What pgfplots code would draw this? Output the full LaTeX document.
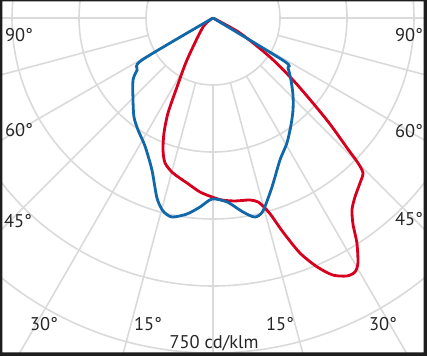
\documentclass[border=0pt]{standalone}
\usepackage{pgfplots}
\usepackage{pgfplotstable}
\pgfplotsset{compat=1.18}
\usepackage{fontspec}
\setmainfont{PT Sans}
\definecolor{cblue}{RGB}{16,104,170}
\definecolor{cred}{RGB}{214,0,30}
\definecolor{cgrid}{RGB}{218,218,218}
\definecolor{cframe}{RGB}{30,30,30}

% luminous intensity in cd/klm, angle in degrees (0 = nadir, negative = left)
\pgfplotstableread{
a I
-60 0
-59.4 184.7
-55.6 206
-52.2 226.6
-44.3 256.5
-38.6 283.6
-33.8 301.8
-28.0 324.5
-21.9 366.7
-17.3 422
-14.5 446.4
-11.65 454.9
-7.55 442.6
-3.9 424
-0.3 405.3
4.35 413
8.8 439.5
11.9 455.4
14.5 446.4
19.25 400.7
25.25 351.5
30.6 325.2
36.1 296.4
41.0 273
46.1 248.5
51.5 223
56.3 201.8
58.8 185.8
60 0
}\bluedata

\pgfplotstableread{
a I
-48 0
-48 30
-31.8 110.6
-27.55 174.3
-25.35 235.3
-23.1 279.8
-20.75 316
-18.3 342
-14.5 358.4
-8.95 374
-4.3 390.6
-0.3 400.8
2.8 408
6.85 412.6
11.5 415.8
13.75 424
15.1 438.3
16.4 459.8
18.1 504
20.3 561
22.7 604
25.0 635
27.45 650.8
29.2 651.5
30.6 637.4
32.6 598
34.1 559.5
35.9 530.6
38.4 511.6
41.7 494.8
44.05 483
45 459
45.9 418
47.8 353.5
49.6 293.8
52.2 226.6
55.6 154.6
60.9 69.1
61 0
}\reddata

\begin{document}
\begin{tikzpicture}
\begin{axis}[width=427bp,height=356bp,scale only axis,
  xmin=-476.9,xmax=479.1,ymin=-756.7,ymax=40.3,
  hide axis, clip=true, clip bounding box=upper bound]
\pgfplotsinvokeforeach{150,300,450,600,750}{
  \draw[cgrid,line width=1.6bp] (axis cs:0,0) circle[radius=#1];
}
\pgfplotsinvokeforeach{-90,-75,...,90}{
  \draw[cgrid,line width=1.6bp] (axis cs:{150*sin(#1)},{-150*cos(#1)}) -- (axis cs:{1200*sin(#1)},{-1200*cos(#1)});
}
\addplot[cred,line width=2.8bp,smooth,tension=0.45] table[x expr={\thisrow{I}*sin(\thisrow{a})}, y expr={-\thisrow{I}*cos(\thisrow{a})}] {\reddata};
\addplot[cblue,line width=2.8bp,smooth,tension=0.45] table[x expr={\thisrow{I}*sin(\thisrow{a})}, y expr={-\thisrow{I}*cos(\thisrow{a})}] {\bluedata};
\end{axis}
\pgfresetboundingbox
\useasboundingbox (current axis.south west) rectangle (current axis.north east);
\fill[cframe,even odd rule] (current axis.south west) rectangle (current axis.north east)
  ([shift={(2.5bp,3.5bp)}]current axis.south west) rectangle ([shift={(-3.5bp,-1.5bp)}]current axis.north east);
\begin{scope}[every node/.style={font=\fontsize{18.5}{20}\selectfont, inner sep=0pt, text=black!85}]
\node at ([shift={(19bp,-35bp)}]current axis.north west) {90°};
\node at ([shift={(409bp,-35bp)}]current axis.north west) {90°};
\node at ([shift={(19bp,-130bp)}]current axis.north west) {60°};
\node at ([shift={(409bp,-131bp)}]current axis.north west) {60°};
\node at ([shift={(18bp,-221bp)}]current axis.north west) {45°};
\node at ([shift={(409bp,-219bp)}]current axis.north west) {45°};
\node at ([shift={(44bp,-324bp)}]current axis.north west) {30°};
\node at ([shift={(148bp,-324bp)}]current axis.north west) {15°};
\node at ([shift={(280bp,-324bp)}]current axis.north west) {15°};
\node at ([shift={(383bp,-324bp)}]current axis.north west) {30°};
\node at ([shift={(214bp,-343bp)}]current axis.north west) {750 cd/klm};
\end{scope}
\end{tikzpicture}
\end{document}
